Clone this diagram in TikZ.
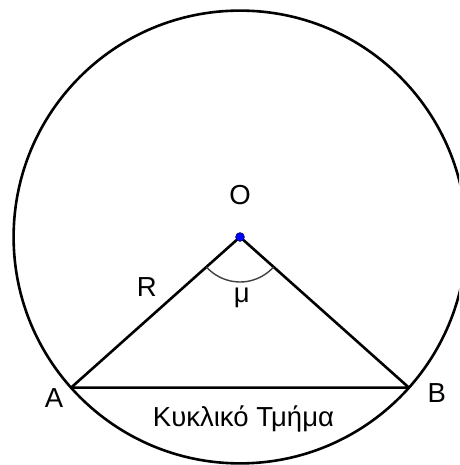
\documentclass[tikz,border=0pt]{standalone}
\usepackage{fontspec}
\setmainfont{Liberation Sans}
\begin{document}
\begin{tikzpicture}[x=1pt,y=1pt,
  lbl/.style={inner sep=0pt,font=\fontsize{27.5}{33}\selectfont},
  thick line/.style={line width=2.6pt,black}]
\useasboundingbox (0,0) rectangle (459,465);
\clip (0,0) rectangle (459,465);
\coordinate (O) at (240,228);
\coordinate (A) at (71,77.3);
\coordinate (B) at (409,77.3);
\draw[thick line] (O) circle[radius=226.4];
\draw[thick line,line join=round] (A) -- (O) -- (B) -- cycle;
\draw[line width=1.4pt,black!75] ([shift={(221.7:45)}]O) arc[start angle=221.7,end angle=318.3,radius=45];
\fill[blue] (O) circle[radius=4.4];
\draw[line width=0.6pt,blue!40!black] (O) circle[radius=4.4];
\node[lbl] (lO) at (240,270) {O};
\node[lbl] (lA) at (54,67) {A};
\node[lbl] (lB) at (436.7,72) {B};
\node[lbl] (lR) at (146.7,178) {R};
\node[lbl,anchor=base] (lmu) at (241.7,162) {μ};
\node[lbl,anchor=base] (lseg) at (243.5,38.3) {Κυκλικό Τμήμα};
\end{tikzpicture}
\end{document}
